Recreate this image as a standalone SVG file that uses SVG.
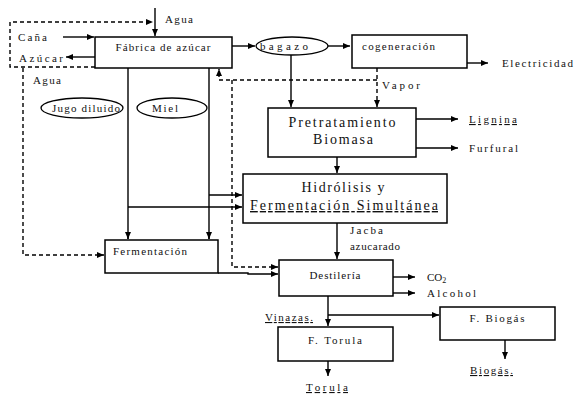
<svg xmlns="http://www.w3.org/2000/svg" width="574" height="394" viewBox="0 0 574 394">
<defs>
<marker id="a" markerWidth="8" markerHeight="8" refX="7" refY="4" orient="auto" markerUnits="userSpaceOnUse"><path d="M0,1 L7,4 L0,7 Z" fill="#000"/></marker>
<style>
.b{fill:#fff;stroke:#000;stroke-width:1.5}
.e{fill:#fff;stroke:#000;stroke-width:1.3}
.l{fill:none;stroke:#000;stroke-width:1.4}
.d{fill:none;stroke:#000;stroke-width:1.4;stroke-dasharray:4 3}
text{font-family:"Liberation Serif","Times New Roman",serif;font-size:11px;fill:#111}
.m{text-anchor:middle}
.big{font-size:14px}
.u{text-decoration:underline}
</style>
</defs>
<rect width="574" height="394" fill="#fff"/>
<g id="connectors">
<path class="l" d="M155,8 V36" marker-end="url(#a)"/>
<path class="d" d="M95,67 H10 V22 H153" marker-end="url(#a)"/>
<path class="l" d="M63,37 H94" marker-end="url(#a)"/>
<path class="l" d="M95,57 H66" marker-end="url(#a)"/>
<path class="d" d="M23,68 V255 H104" marker-end="url(#a)"/>
<path class="l" d="M128,68 V239"/>
<path class="l" d="M209,68 V239"/>
<path class="l" d="M128,232 V239" marker-end="url(#a)"/>
<path class="l" d="M209,232 V239" marker-end="url(#a)"/>
<path class="l" d="M209,195 H242" marker-end="url(#a)"/>
<path class="l" d="M128,207 H242" marker-end="url(#a)"/>
<path class="l" d="M232,46 H255" marker-end="url(#a)"/>
<path class="l" d="M328,46 H350" marker-end="url(#a)"/>
<path class="l" d="M467,63 H488" marker-end="url(#a)"/>
<path class="l" d="M291,55 V107" marker-end="url(#a)"/>
<path class="d" d="M377,68 V107" marker-end="url(#a)"/>
<path class="d" d="M377,80 H219 V69" marker-end="url(#a)"/>
<path class="d" d="M232,80 V267 H278" marker-end="url(#a)"/>
<path class="l" d="M416,119 H458" marker-end="url(#a)"/>
<path class="l" d="M416,148 H458" marker-end="url(#a)"/>
<path class="l" d="M337,157 V173" marker-end="url(#a)"/>
<path class="l" d="M337,223 V259" marker-end="url(#a)"/>
<path class="l" d="M218,273 H248 V274 H278" marker-end="url(#a)"/>
<path class="l" d="M393,277 H415" marker-end="url(#a)"/>
<path class="l" d="M393,293 H415" marker-end="url(#a)"/>
<path class="l" d="M328,296 V326" marker-end="url(#a)"/>
<path class="l" d="M328,315 H439" marker-end="url(#a)"/>
<path class="l" d="M505,340 V359" marker-end="url(#a)"/>
<path class="l" d="M328,361 V376" marker-end="url(#a)"/>
</g>
<g id="fabrica"><rect class="b" x="95" y="37" width="137" height="31"/><text class="m" x="163" y="51" textLength="95" lengthAdjust="spacing">Fábrica de azúcar</text></g>
<g id="jugo"><ellipse class="e" cx="82" cy="108" rx="41" ry="10"/><text class="m" x="86" y="112" textLength="68" lengthAdjust="spacing">Jugo diluido</text></g>
<g id="miel"><ellipse class="e" cx="172" cy="108" rx="35" ry="10"/><text class="m" x="165" y="112" textLength="26" lengthAdjust="spacing">Miel</text></g>
<g id="bagazo"><ellipse class="e" cx="292" cy="46" rx="36" ry="9"/><text class="m" x="284" y="50" textLength="48" lengthAdjust="spacing">bagazo</text></g>
<g id="cogeneracion"><rect class="b" x="352" y="35" width="115" height="33"/><text x="362" y="50" font-size="10" textLength="73" lengthAdjust="spacing">cogeneración</text></g>
<g id="pretratamiento"><rect class="b" x="268" y="108" width="148" height="49"/><text class="m big" x="342" y="127" textLength="107" lengthAdjust="spacing">Pretratamiento</text><text class="m big" x="343" y="144" textLength="60" lengthAdjust="spacing">Biomasa</text></g>
<g id="hidrolisis"><rect class="b" x="243" y="174" width="204" height="49"/><text class="m big" x="343" y="192" textLength="83" lengthAdjust="spacing">Hidrólisis y</text><text class="m big u" x="344" y="210" textLength="188" lengthAdjust="spacing">Fermentación Simultánea</text></g>
<g id="fermentacion"><rect class="b" x="105" y="240" width="113" height="33"/><text x="113" y="255" font-size="10" textLength="74" lengthAdjust="spacing">Fermentación</text></g>
<g id="destileria"><rect class="b" x="279" y="260" width="114" height="36"/><text class="m" x="335" y="279" textLength="51" lengthAdjust="spacing">Destilería</text></g>
<g id="ftorula"><rect class="b" x="278" y="327" width="115" height="34"/><text class="m" x="335" y="344" textLength="54" lengthAdjust="spacing">F. Torula</text></g>
<g id="fbiogas"><rect class="b" x="440" y="307" width="115" height="33"/><text class="m" x="497" y="322" textLength="55" lengthAdjust="spacing">F. Biogás</text></g>
<g id="labels">
<text x="165" y="23" textLength="28" lengthAdjust="spacing">Agua</text>
<text x="18" y="41" textLength="29" lengthAdjust="spacing">Caña</text>
<text x="19" y="62" textLength="44" lengthAdjust="spacing">Azúcar</text>
<text x="33" y="84" textLength="28" lengthAdjust="spacing">Agua</text>
<text x="502" y="67" textLength="71" lengthAdjust="spacing">Electricidad</text>
<text x="382" y="89" font-size="12" textLength="38" lengthAdjust="spacing">Vapor</text>
<text class="u" x="469" y="123" font-size="12" textLength="48" lengthAdjust="spacing">Lignina</text>
<text x="469" y="152" font-size="12" textLength="49" lengthAdjust="spacing">Furfural</text>
<text x="350" y="234" font-size="10" textLength="33" lengthAdjust="spacing">Jacba</text>
<text x="350" y="250" font-size="10" textLength="50" lengthAdjust="spacing">azucarado</text>
<text x="427" y="281" font-size="12">CO<tspan font-size="8" dy="2">2</tspan></text>
<text x="427" y="297" font-size="12" textLength="49" lengthAdjust="spacing">Alcohol</text>
<text class="u" x="265" y="321" textLength="48" lengthAdjust="spacing">Vinazas.</text>
<text class="u" x="470" y="374" textLength="43" lengthAdjust="spacing">Biogás.</text>
<text class="u" x="306" y="391" textLength="42" lengthAdjust="spacing">Torula</text>
</g>
</svg>
